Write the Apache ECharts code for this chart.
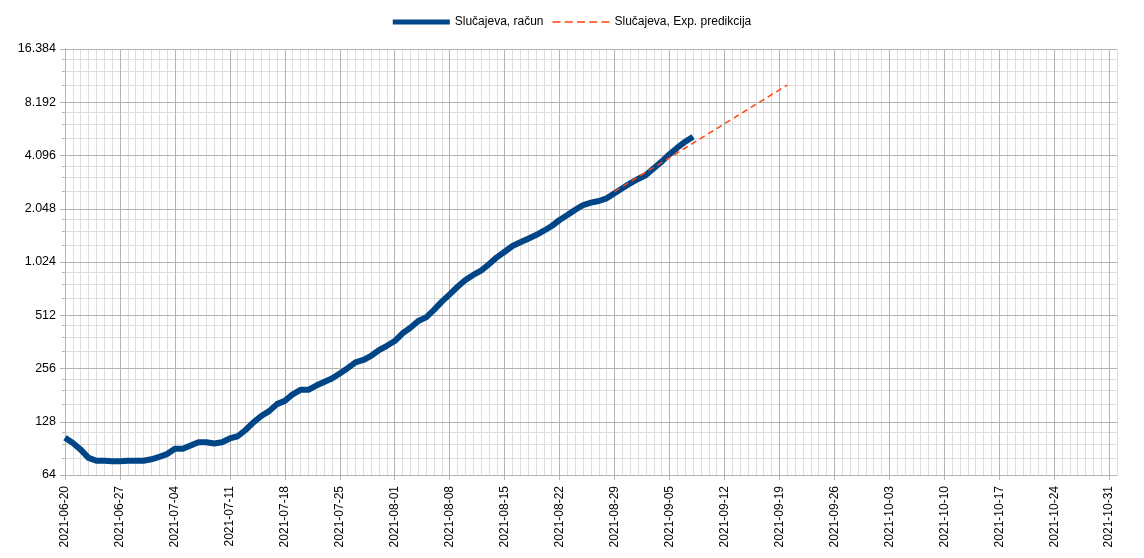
<!DOCTYPE html>
<html>
<head>
<meta charset="utf-8">
<script src="https://cdn.jsdelivr.net/npm/echarts@6/dist/echarts.min.js"></script>
<style>html,body{margin:0;padding:0;background:#fff}#c{width:1144px;height:558px}</style>
</head>
<body>
<div id="c"></div>
<script>
// Axis range (categories: every day)
var startDate = '2021-06-20';
var endDate = '2021-11-01';
// Y tick labels (log base 2)
var yMin = 64;
var yMax = 16384;
// linear sub-steps inside each octave for the minor grid
var minorSteps = [1.25, 1.5, 1.75];

// Series: "Slučajeva, račun" — daily from 2021-06-20
var casesValues = [104, 97, 89, 80, 77, 77, 76.5, 76.5, 77, 77, 77,
  78.5, 81, 84, 90, 90, 94, 98, 98, 96.5, 98,
  103, 106, 115, 127, 138, 147, 161, 168, 183, 194,
  194, 205, 215, 225, 240, 257, 277, 286, 302, 325,
  344, 366, 405, 435, 475, 498, 549, 611, 672, 742,
  810, 865, 915, 994, 1088, 1171, 1261, 1323, 1387, 1455,
  1539, 1636, 1769, 1886, 2020, 2150, 2216, 2266, 2346, 2505,
  2673, 2853, 3017, 3178, 3468, 3781, 4160, 4535, 4904, 5232];

// Series: "Slučajeva, Exp. predikcija" — daily from 2021-08-29
var predStart = '2021-08-29';
var predValues = [2560, 2727, 2904, 3093, 3295, 3509, 3738, 3981, 4240, 4516, 4810,
  5123, 5457, 5812, 6190, 6593, 7022, 7480, 7967, 8485, 9038, 9626, 10240];

var seriesNames = ['Slučajeva, račun', 'Slučajeva, Exp. predikcija'];

function pad(n){return (n<10?'0':'')+n;}
function fmt(d){return d.getUTCFullYear()+'-'+pad(d.getUTCMonth()+1)+'-'+pad(d.getUTCDate());}
var categories = [];
(function(){
  var d = new Date(startDate+'T00:00:00Z'), e = new Date(endDate+'T00:00:00Z');
  while (d <= e) { categories.push(fmt(d)); d = new Date(d.getTime()+86400000); }
})();
var predIdx = categories.indexOf(predStart);
var predData = predValues.map(function(v,i){return [categories[predIdx+i], v];});
var casesData = casesValues.map(function(v,i){return [categories[i], v];});

var minorVals = [];
for (var b = yMin; b < yMax; b *= 2) {
  minorSteps.forEach(function(s){ minorVals.push(b*s); });
}

function thousands(v){
  return String(Math.round(v)).replace(/\B(?=(\d{3})+(?!\d))/g, '.');
}

var FONT = '"Liberation Sans", Arial, sans-serif';
var MAJOR = '#b3b3b3', MINOR = '#dddddd';

var chart = echarts.init(document.getElementById('c'), null, {renderer:'canvas'});
chart.setOption({
  animation: false,
  backgroundColor: '#fff',
  textStyle: {fontFamily: FONT},
  legend: {
    top: 11, left: 'center',
    itemWidth: 57, itemHeight: 14, itemGap: 9,
    textStyle: {fontFamily: FONT, fontSize: 12, color: '#000'},
    itemStyle: {borderWidth: 0},
    lineStyle: {width: 0},
    data: [
      {name: seriesNames[0], icon: 'path://M0,0h57v5h-57z', itemStyle: {color: '#004586', borderWidth: 0}},
      {name: seriesNames[1], icon: 'path://M0,0h8v1.5h-8z M12.25,0h8v1.5h-8z M24.5,0h8v1.5h-8z M36.75,0h8v1.5h-8z M49,0h8v1.5h-8z', itemStyle: {color: '#ff420e', borderWidth: 0}}
    ]
  },
  grid: {left: 65, right: 27, top: 49, bottom: 83, containLabel: false},
  xAxis: [{
    type: 'category', data: categories, boundaryGap: false, z: 2,
    axisLine: {show: true, lineStyle: {color: MAJOR, width: 1}},
    axisTick: {show: true, interval: 6, length: 5, lineStyle: {color: MAJOR}},
    axisLabel: {interval: 6, rotate: 90, margin: 11, fontSize: 12, color: '#000', fontFamily: FONT},
    splitLine: {show: true, interval: 6, lineStyle: {color: MAJOR, width: 1}}
  }, {
    type: 'category', data: categories, boundaryGap: false, position: 'bottom', z: 1,
    axisLine: {show: false}, axisTick: {show: false}, axisLabel: {show: false},
    splitLine: {show: true, interval: 0, lineStyle: {color: MINOR, width: 1}}
  }],
  yAxis: [{
    type: 'log', logBase: 2, min: yMin, max: yMax, splitNumber: 8, z: 2,
    axisLine: {show: true, lineStyle: {color: MAJOR}},
    axisTick: {show: true, length: 5, lineStyle: {color: MAJOR}},
    splitLine: {show: true, lineStyle: {color: MAJOR, width: 1}},
    axisLabel: {margin: 9, fontSize: 12.5, color: '#000', fontFamily: FONT,
      formatter: function(v){return thousands(v);}}
  }, {
    type: 'log', logBase: 2, min: yMin, max: yMax, position: 'left', offset: 0, z: 1,
    axisLine: {show: false},
    axisTick: {show: true, length: 3, customValues: minorVals, lineStyle: {color: MAJOR}},
    axisLabel: {show: false},
    splitLine: {show: true, lineStyle: {color: MINOR, width: 1}}
  }],
  series: [{
    name: seriesNames[0], type: 'line', xAxisIndex: 0, yAxisIndex: 0, data: casesData,
    showSymbol: false, symbol: 'none', smooth: false,
    lineStyle: {color: '#004586', width: 6, cap: 'butt', join: 'round'},
    itemStyle: {color: '#004586'}
  }, {
    name: seriesNames[1], type: 'line', xAxisIndex: 0, yAxisIndex: 0, data: predData,
    showSymbol: false, symbol: 'none',
    lineStyle: {color: '#ff420e', width: 1.5, type: [6, 4]},
    itemStyle: {color: '#ff420e'}
  }]
});
</script>
</body>
</html>
